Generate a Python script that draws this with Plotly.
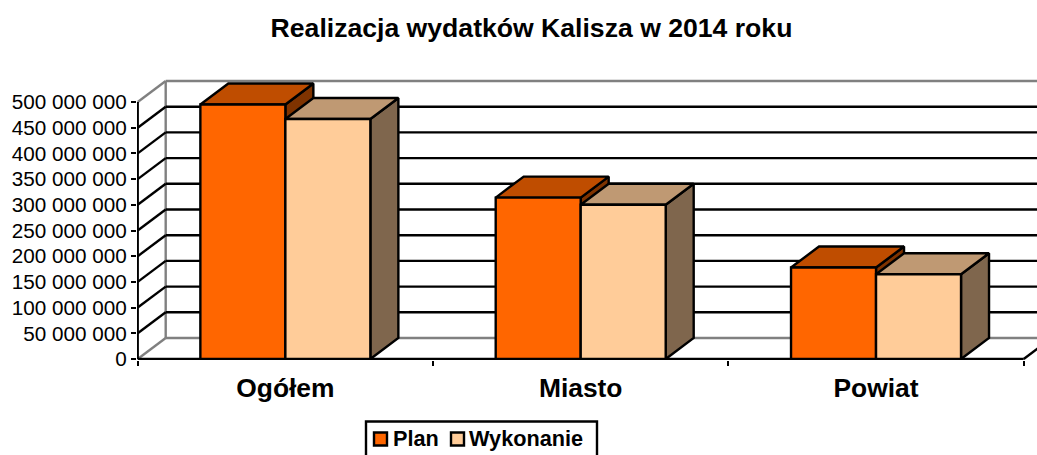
import plotly.graph_objects as go

TITLE = "Realizacja wydatków Kalisza w 2014 roku"
categories = ["Ogółem", "Miasto", "Powiat"]
plan = [495000000, 314000000, 178000000]
wykonanie = [467000000, 300000000, 165000000]
y_ticks = [0, 50000000, 100000000, 150000000, 200000000, 250000000,
           300000000, 350000000, 400000000, 450000000, 500000000]
y_labels = ["0", "50 000 000", "100 000 000", "150 000 000", "200 000 000", "250 000 000",
            "300 000 000", "350 000 000", "400 000 000", "450 000 000", "500 000 000"]

FONT = "Liberation Sans, Arial, sans-serif"
W, H = 1037, 455
PX_X = 1 / 295.33                # category units per pixel
PX_Y = 500000000 / 257           # value units per pixel
DX = 28 * PX_X                   # depth of the 3-D box
DY = 21 * PX_Y
BAR_W = 85 * PX_X
XMAX = 3
YMAX = y_ticks[-1]
positions = [i + 0.5 for i in range(len(categories))]
LW = 2.4
PLAN_COLOR, WYK_COLOR = "#FF6600", "#FFCC99"
PLOT_L, PLOT_T, PLOT_B = 137, 76, 360

fig = go.Figure()


def frame(pairs, color, z=0):
    xs, ys = [], []
    for (x0, y0), (x1, y1) in pairs:
        xs += [x0, x1, None]
        ys += [y0, y1, None]
    fig.add_trace(go.Scatter(x=xs, y=ys, mode="lines", line=dict(color=color, width=LW),
                             showlegend=False, hoverinfo="skip", zorder=z))


inner = y_ticks[1:-1]
frame([((DX, DY), (DX, YMAX + DY)),
       ((0, 0), (DX, DY)), ((0, YMAX), (DX, YMAX + DY)),
       ((DX, DY), (XMAX + 2 * DX, DY)), ((DX, YMAX + DY), (XMAX + 2 * DX, YMAX + DY))], "#808080")
frame([((0, v), (DX, v + DY)) for v in inner] +
      [((DX, v + DY), (XMAX + 2 * DX, v + DY)) for v in inner] +
      [((XMAX, 0), (XMAX + DX, DY)), ((0, 0), (0, YMAX)), ((0, 0), (XMAX, 0))], "#000000")


def poly(xs, ys, color, z):
    fig.add_trace(go.Scatter(x=xs, y=ys, mode="lines", fill="toself", fillcolor=color,
                             line=dict(color="#000000", width=LW), showlegend=False,
                             hoverinfo="skip", zorder=z))


def box_faces(values, x_left, top_color, side_color, z):
    for x0, v in zip(x_left, values):
        x1 = x0 + BAR_W
        poly([x1, x1 + DX, x1 + DX, x1, x1], [0, DY, v + DY, v, 0], side_color, z)
        poly([x0, x0 + DX, x1 + DX, x1, x0], [v, v + DY, v + DY, v, v], top_color, z)


box_faces(plan, [p - BAR_W for p in positions], "#BF4D00", "#7F3300", 1)
box_faces(wykonanie, positions, "#BF9973", "#7F664D", 2)

for name, values, color in (("Plan", plan, PLAN_COLOR), ("Wykonanie", wykonanie, WYK_COLOR)):
    fig.add_trace(go.Bar(x=positions, y=values, name=name, width=BAR_W, showlegend=False,
                         marker=dict(color=color, line=dict(color="#000000", width=LW)),
                         zorder=3))


def page_x(x):
    return (x - PLOT_L) / (W - PLOT_L)


def page_y(y):
    return (PLOT_B - y) / (PLOT_B - PLOT_T)


# Legend: box (running off the bottom of the page, as in the reference), swatches and labels
shapes = [
    dict(type="rect", xref="paper", yref="paper", x0=page_x(366), x1=page_x(597),
         y0=page_y(421.5), y1=page_y(462), line=dict(color="#000000", width=2.4),
         fillcolor="#FFFFFF"),
    dict(type="rect", xref="paper", yref="paper", x0=page_x(374), x1=page_x(387),
         y0=page_y(432.5), y1=page_y(445.5), line=dict(color="#000000", width=2.4),
         fillcolor=PLAN_COLOR),
    dict(type="rect", xref="paper", yref="paper", x0=page_x(451), x1=page_x(464),
         y0=page_y(432.5), y1=page_y(445.5), line=dict(color="#000000", width=2.4),
         fillcolor=WYK_COLOR),
]
annotations = [
    dict(text="<b>Plan</b>", xref="paper", yref="paper", x=page_x(391), y=page_y(438.5),
         xanchor="left", yanchor="middle", showarrow=False,
         font=dict(size=21.7, family=FONT, color="#000000")),
    dict(text="<b>Wykonanie</b>", xref="paper", yref="paper", x=page_x(467), y=page_y(438.5),
         xanchor="left", yanchor="middle", showarrow=False,
         font=dict(size=21.7, family=FONT, color="#000000")),
]

fig.update_layout(
    width=W, height=H, barmode="group", bargap=1 - 2 * BAR_W, bargroupgap=0,
    margin=dict(l=PLOT_L, r=0, t=PLOT_T, b=H - PLOT_B),
    paper_bgcolor="#FFFFFF", plot_bgcolor="#FFFFFF",
    font=dict(family=FONT, color="#000000"),
    showlegend=False, shapes=shapes, annotations=annotations,
    title=dict(text=f"<b>{TITLE}</b>", font=dict(size=26.6, family=FONT, color="#000000"),
               xref="container", yref="container", x=531.5 / W, xanchor="center",
               y=1 - 28 / H, yanchor="middle"),
    xaxis=dict(range=[-0.7 * PX_X, (W - 137.7) * PX_X], tickvals=positions,
               ticktext=[f"<b>{c}</b>" for c in categories],
               ticks="", tickfont=dict(size=26.4, family=FONT, color="#000000"),
               showgrid=False, zeroline=False, showline=False,
               ticklabelstandoff=10,
               minor=dict(tickvals=list(range(XMAX + 1)), ticks="outside", ticklen=5, tickwidth=2,
                          tickcolor="#000000", showgrid=False)),
    yaxis=dict(range=[-PX_Y, (359 - PLOT_T) * PX_Y], tickvals=y_ticks, ticktext=y_labels,
               ticks="outside", ticklen=5, tickwidth=2, tickcolor="#000000",
               tickfont=dict(size=20.7, family=FONT, color="#000000"),
               showgrid=False, zeroline=False, showline=False),
)

fig.write_html("out.html", post_script="document.body.style.margin='0';",
               config={"displayModeBar": False})
